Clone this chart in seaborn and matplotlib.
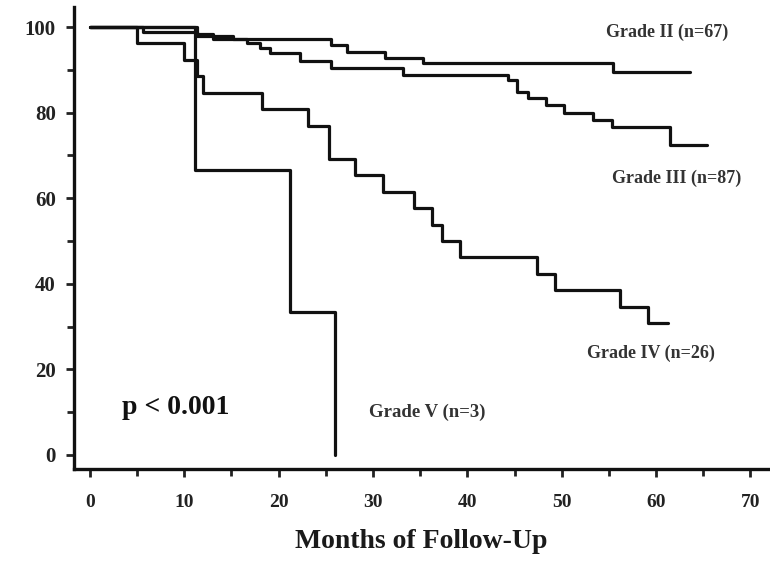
import matplotlib
matplotlib.use("Agg")
import matplotlib.pyplot as plt
import seaborn as sns
import pandas as pd
from matplotlib.ticker import MultipleLocator

# Kaplan-Meier step data
grade2_t = [0, 11.3, 13.0, 25.5, 27.2, 31.3, 35.3, 55.4, 63.6]
grade2_s = [100, 98.5, 97.3, 95.8, 94.2, 92.8, 91.6, 89.5, 89.5]

grade3_t = [0, 5.6, 11.3, 15.2, 16.6, 18.0, 19.1, 22.3, 25.5, 33.2, 44.3, 45.3,
            46.4, 48.3, 50.2, 53.3, 55.3, 61.5, 65.4]
grade3_s = [100, 98.9, 98.0, 97.3, 96.3, 95.2, 94.0, 92.0, 90.4, 88.8, 87.6, 84.8,
            83.4, 81.8, 79.9, 78.3, 76.6, 72.4, 72.4]

grade4_t = [0, 5.0, 10.0, 11.3, 12.0, 18.2, 23.1, 25.3, 28.1, 31.1, 34.3, 36.3,
            37.3, 39.2, 47.4, 49.3, 56.2, 59.2, 61.3]
grade4_s = [100, 96.2, 92.3, 88.5, 84.6, 80.8, 76.9, 69.2, 65.4, 61.5, 57.7, 53.8,
            50.0, 46.2, 42.3, 38.5, 34.6, 30.8, 30.8]

grade5_t = [0, 11.1, 21.2, 26.0]
grade5_s = [100, 66.7, 33.3, 0]

labels = ["Grade II (n=67)", "Grade III (n=87)", "Grade IV (n=26)", "Grade V (n=3)"]
x_ticks = [0, 10, 20, 30, 40, 50, 60, 70]
y_ticks = [0, 20, 40, 60, 80, 100]
x_label = "Months of Follow-Up"
p_text = "p < 0.001"

sns.set_theme(style="white")
plt.rcParams['font.family'] = ['Liberation Serif', 'DejaVu Serif']

fig = plt.figure(figsize=(7.7, 5.61), dpi=100)
ax = fig.add_axes([0.096, 0.164, 0.903, 0.8235])

series = [(grade2_t, grade2_s), (grade3_t, grade3_s), (grade4_t, grade4_s), (grade5_t, grade5_s)]
for (t, s), lab in zip(series, labels):
    df = pd.DataFrame({"t": t, "s": s})
    sns.lineplot(data=df, x="t", y="s", ax=ax, drawstyle="steps-post",
                 color="#111111", linewidth=2.3, estimator=None, sort=False)

ax.set_xlim(-1.7, 72)
ax.set_ylim(-3.3, 104.7)
ax.set_xticks(x_ticks)
ax.set_yticks(y_ticks)
ax.xaxis.set_minor_locator(MultipleLocator(5))
ax.yaxis.set_minor_locator(MultipleLocator(10))
ax.tick_params(axis="both", which="major", direction="out", length=6, width=2,
               color="#222222", labelcolor="#222222", left=True, bottom=True)
ax.tick_params(axis="x", which="major", labelsize=14, pad=12)
ax.tick_params(axis="y", which="major", labelsize=15, pad=7)
ax.tick_params(axis="both", which="minor", direction="out", length=5, width=2,
               color="#222222", left=True, bottom=True)
for lbl in ax.get_xticklabels() + ax.get_yticklabels():
    lbl.set_fontweight("bold")

for sp in ["top", "right"]:
    ax.spines[sp].set_visible(False)
for sp in ["left", "bottom"]:
    ax.spines[sp].set_linewidth(2.4)
    ax.spines[sp].set_color("#111111")

ax.set_xlabel(x_label, fontsize=20, fontweight="bold", color="#1a1a1a", labelpad=13)
ax.set_ylabel("")

txt_kw = dict(fontsize=13, fontweight="bold", color="#333333", ha="center", va="center")
ax.text(61.2, 98.8, labels[0], **txt_kw)
ax.text(62.2, 64.7, labels[1], **txt_kw)
ax.text(59.5, 23.8, labels[2], **txt_kw)
ax.text(35.7, 10.0, labels[3], fontsize=13.5, fontweight="bold", color="#333333",
        ha="center", va="center")
ax.text(9.1, 11.0, p_text, fontsize=20, fontweight="bold", color="#111111",
        ha="center", va="center")

fig.savefig("out.png", dpi=100)
